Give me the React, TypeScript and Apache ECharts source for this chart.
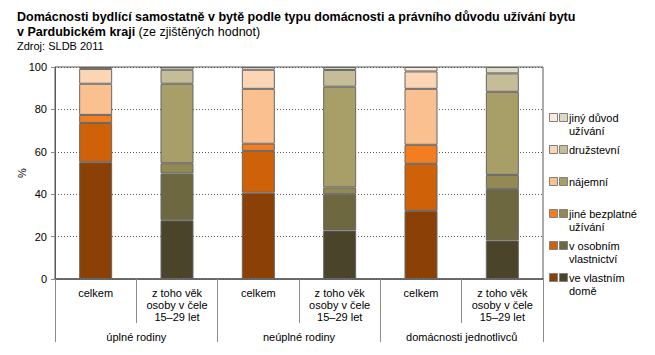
import React, { useEffect, useRef } from "react";
import * as echarts from "echarts";

const categories = [
  "celkem",
  "z toho věk\nosoby v čele\n15–29 let",
  "celkem",
  "z toho věk\nosoby v čele\n15–29 let",
  "celkem",
  "z toho věk\nosoby v čele\n15–29 let",
];
const groups = ["úplné rodiny", "neúplné rodiny", "domácnosti jednotlivců"];

// stacking order: bottom to top
const seriesNames = [
  "ve vlastním domě",
  "v osobním vlastnictví",
  "jiné bezplatné užívání",
  "nájemní",
  "družstevní",
  "jiný důvod užívání",
];
const legendLabels = [
  "ve vlastním\ndomě",
  "v osobním\nvlastnictví",
  "jiné bezplatné\nužívání",
  "nájemní",
  "družstevní",
  "jiný důvod\nužívání",
];

const veVlastnimDome = [55.1, 27.7, 40.7, 22.9, 32.1, 18.2];
const vOsobnimVlastnictvi = [18.5, 22.1, 19.7, 17.1, 22.2, 24.2];
const jineBezplatne = [3.8, 4.8, 3.4, 3.2, 9.0, 6.7];
const najemni = [14.7, 37.5, 25.9, 47.5, 26.4, 39.2];
const druzstevni = [7.0, 6.6, 9.0, 7.9, 8.2, 8.7];
const jinyDuvod = [0.9, 1.3, 1.3, 1.4, 2.1, 3.0];
const seriesValues = [veVlastnimDome, vOsobnimVlastnictvi, jineBezplatne, najemni, druzstevni, jinyDuvod];

const celkemColors = ["#8B4006", "#CF6209", "#F47D20", "#FAC090", "#FCD5B4", "#FDE9D9"];
const youthColors = ["#4A452A", "#6E6840", "#938953", "#A89F68", "#C4BD97", "#DDD9C3"];

const yTicks = [0, 20, 40, 60, 80, 100];

const FONT = "'Liberation Sans', Arial, sans-serif";

export default function App() {
  const ref = useRef<HTMLDivElement>(null);
  useEffect(() => {
    if (!ref.current) return;
    const chart = echarts.init(ref.current, null, { renderer: "svg" });

    const series = seriesNames.map((name, s) => ({
      name,
      type: "bar",
      stack: "total",
      barWidth: 33,
      data: seriesValues[s].map((v, i) => ({
        value: v,
        itemStyle: { color: i % 2 === 0 ? celkemColors[s] : youthColors[s] },
      })),
      itemStyle: { borderColor: "#666666", borderWidth: 1 },
    }));

    // legend (custom: paired swatches)
    const legendGraphics: any[] = [];
    const order = [5, 4, 3, 2, 1, 0];
    order.forEach((s, k) => {
      const cy = 118 + k * 32;
      legendGraphics.push({
        type: "rect",
        shape: { x: 549.5, y: cy - 4.5, width: 8, height: 8 },
        style: { fill: celkemColors[s], stroke: "#808080", lineWidth: 1 },
      });
      legendGraphics.push({
        type: "rect",
        shape: { x: 559.5, y: cy - 4.5, width: 8, height: 8 },
        style: { fill: youthColors[s], stroke: "#808080", lineWidth: 1 },
      });
      legendGraphics.push({
        type: "text",
        x: 569,
        y: cy - 6,
        style: {
          text: legendLabels[s],
          font: `11px ${FONT}`,
          fill: "#000",
          lineHeight: 12.5,
          verticalAlign: "top",
        },
      });
    });

    chart.setOption({
      animation: false,
      textStyle: { fontFamily: FONT },
      title: {
        left: 12,
        top: 4,
        text:
          "Domácnosti bydlící samostatně v bytě podle typu domácnosti a právního důvodu užívání bytu\nv Pardubickém kraji {n|(ze zjištěných hodnot)}",
        textStyle: {
          fontFamily: FONT,
          fontSize: 12.5,
          fontWeight: "bold",
          color: "#000",
          lineHeight: 15,
          rich: {
            n: { fontFamily: FONT, fontSize: 12.5, fontWeight: "normal", color: "#000" },
          },
        },
        subtext: "Zdroj: SLDB 2011",
        subtextStyle: { fontFamily: FONT, fontSize: 11, color: "#000" },
        itemGap: 1,
      },
      grid: {
        left: 55,
        right: 112,
        top: 67,
        bottom: 76,
        show: true,
        borderColor: "#595959",
        borderWidth: 1,
        containLabel: false,
      },
      xAxis: [
        {
          type: "category",
          data: categories,
          position: "bottom",
          axisLine: { show: true, lineStyle: { color: "#595959", width: 1.5 } },
          axisTick: { show: true, length: 44, lineStyle: { color: "#8c8c8c" } },
          axisLabel: {
            interval: 0,
            margin: 8,
            fontSize: 11,
            lineHeight: 12,
            color: "#000",
            fontFamily: FONT,
          },
        },
        {
          type: "category",
          data: groups,
          position: "bottom",
          axisLine: { show: false },
          axisTick: { show: true, length: 63, lineStyle: { color: "#8c8c8c" } },
          axisLabel: { interval: 0, margin: 52, fontSize: 11, color: "#000", fontFamily: FONT },
        },
      ],
      yAxis: {
        type: "value",
        min: yTicks[0],
        max: yTicks[yTicks.length - 1],
        interval: 20,
        name: "%",
        nameLocation: "middle",
        nameGap: 28,
        nameRotate: 90,
        nameMoveOverlap: false,
        nameTextStyle: { fontSize: 11, color: "#000", fontFamily: FONT },
        axisLine: { show: true, lineStyle: { color: "#595959" } },
        axisTick: { show: true, length: 4, lineStyle: { color: "#8c8c8c" } },
        axisLabel: { fontSize: 11, color: "#000", margin: 8, fontFamily: FONT },
        splitLine: { show: true, lineStyle: { color: "#595959", type: [1, 2] } },
      },
      series,
      graphic: legendGraphics,
    });
    return () => chart.dispose();
  }, []);
  return (
    <div
      ref={ref}
      style={{ position: "fixed", left: 0, top: 0, width: 655, height: 355, background: "#fff" }}
    />
  );
}
